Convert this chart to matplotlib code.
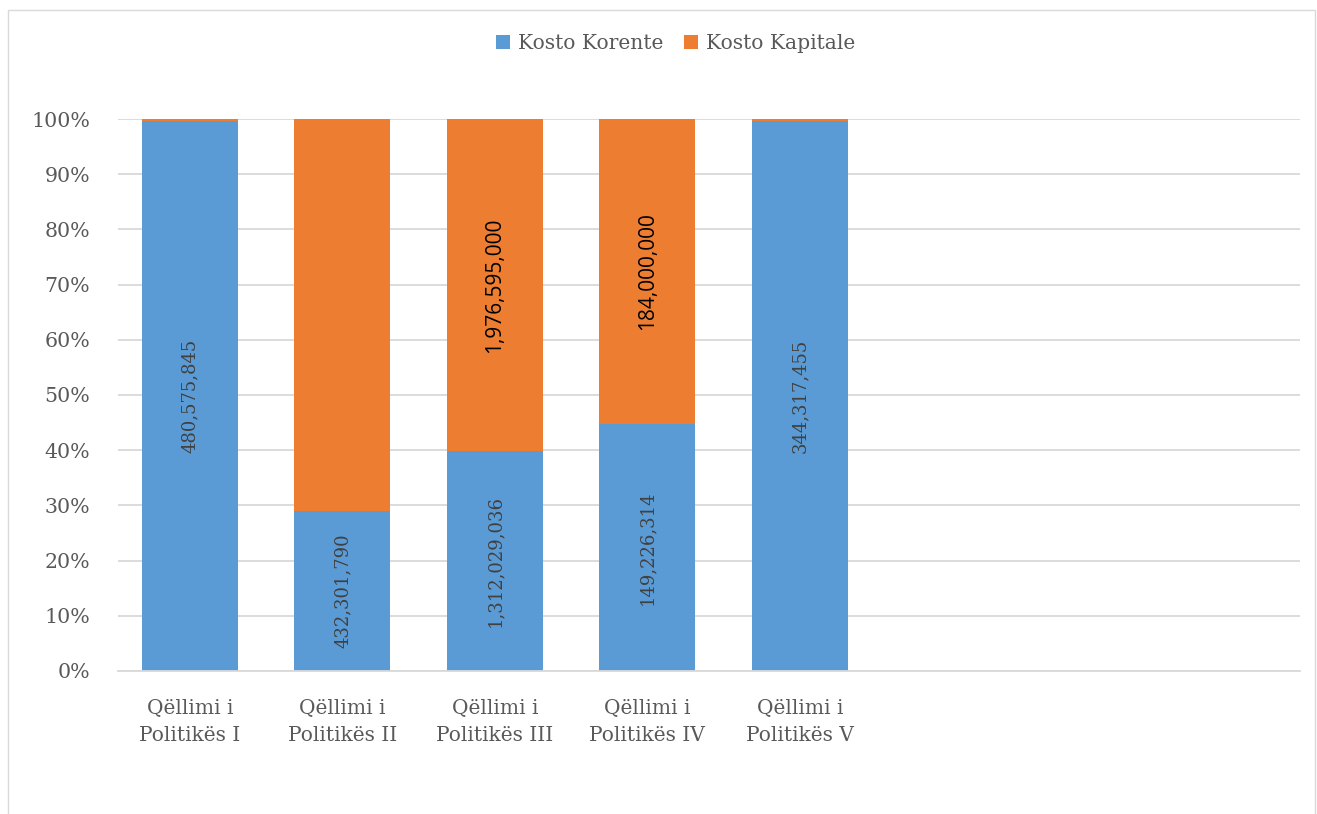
import matplotlib
matplotlib.use("Agg")
import matplotlib.pyplot as plt
import numpy as np
from matplotlib.patches import Rectangle
from matplotlib.ticker import PercentFormatter

categories = ["Qëllimi i\nPolitikës I", "Qëllimi i\nPolitikës II", "Qëllimi i\nPolitikës III",
              "Qëllimi i\nPolitikës IV", "Qëllimi i\nPolitikës V"]
korente = [480575845, 432301790, 1312029036, 149226314, 344317455]
kapitale = [1500000, 1060000000, 1976595000, 184000000, 1100000]
show_kap_label = [False, False, True, True, False]
series_names = ["Kosto Korente", "Kosto Kapitale"]

blue = "#5B9BD5"
orange = "#ED7D31"
gray = "#595959"
serif = ["DejaVu Serif"]

fig = plt.figure(figsize=(13.17, 8.14), dpi=100)
ax = fig.add_axes([0.0896, 0.1757, 0.8975, 0.6781])

x = np.arange(len(categories))
kor = np.array(korente, float)
kap = np.array(kapitale, float)
tot = kor + kap
pk = kor / tot * 100
pc = kap / tot * 100

w = 0.63
ax.bar(x, pk, w, color=blue, label=series_names[0], zorder=2)
ax.bar(x, pc, w, bottom=pk, color=orange, label=series_names[1], zorder=2)

for i in range(len(x)):
    ax.text(x[i], pk[i] / 2, f"{korente[i]:,}", rotation=90, ha="center", va="center",
            fontsize=13, color="#404040", family=serif, zorder=3)
    if show_kap_label[i]:
        ax.text(x[i], pk[i] + pc[i] / 2, f"{kapitale[i]:,}", rotation=90, ha="center",
                va="center", fontsize=15, color="black", family=["Open Sans"], zorder=3)

ax.set_xlim(-0.472, 7.28)
ax.set_ylim(0, 100)
ax.set_yticks(np.arange(0, 101, 10))
ax.yaxis.set_major_formatter(PercentFormatter(decimals=0))
ax.set_xticks(x)
ax.set_xticklabels(categories, family=serif, fontsize=14.5, color=gray, linespacing=1.55)
for lab in ax.get_yticklabels():
    lab.set_family(serif)
    lab.set_fontsize(14.8)
    lab.set_color(gray)
ax.tick_params(axis="both", length=0)
ax.tick_params(axis="y", pad=20)
ax.tick_params(axis="x", pad=20)
ax.grid(axis="y", color="#D9D9D9", linewidth=1.3, zorder=0)
for s in ["top", "right", "left"]:
    ax.spines[s].set_visible(False)
ax.spines["bottom"].set_color("#D9D9D9")
ax.spines["bottom"].set_linewidth(1.3)

leg = fig.legend(loc="center", bbox_to_anchor=(0.513, 0.946), ncol=2, frameon=False,
                 prop={"family": serif[0], "size": 14.6}, handlelength=0.7, handleheight=0.7,
                 handletextpad=0.4, columnspacing=1.0)
for t in leg.get_texts():
    t.set_color(gray)

fig.patches.append(Rectangle((8 / 1317, -0.01), (1315 - 8) / 1317, 1 - 10 / 814 + 0.01,
                             transform=fig.transFigure, fill=False, edgecolor="#D9D9D9",
                             linewidth=1))

fig.savefig("out.png", dpi=100)
